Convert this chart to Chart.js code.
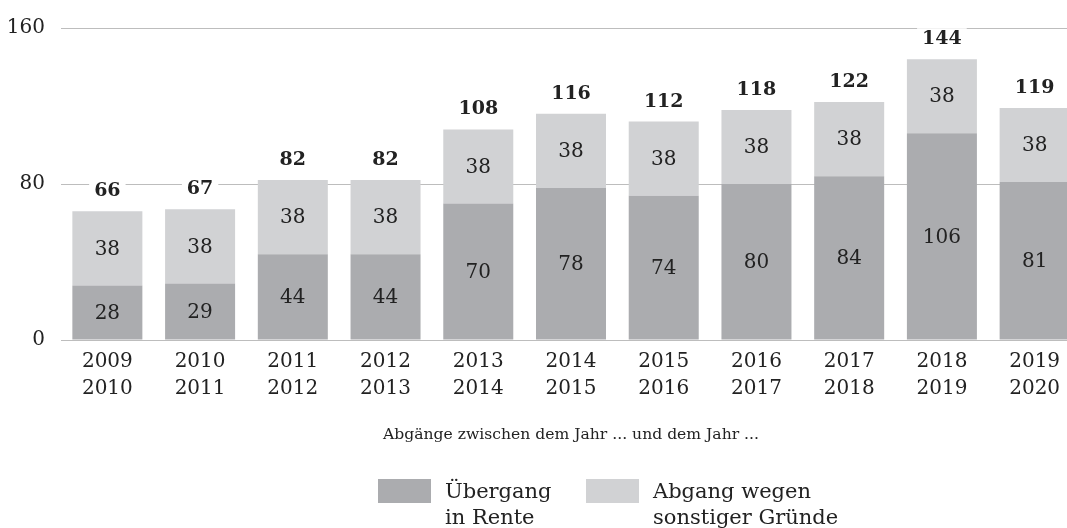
<!DOCTYPE html>
<html>
<head>
<meta charset="utf-8">
<script src="https://cdn.jsdelivr.net/npm/chart.js@4/dist/chart.umd.min.js"></script>
<style>
html,body{margin:0;padding:0;background:#fff;width:1067px;height:528px;overflow:hidden;}
#wrap{position:absolute;left:0;top:0;width:1081px;height:528px;}
.leg{position:absolute;font-family:"DejaVu Serif",serif;font-size:21px;line-height:26px;color:#222;white-space:nowrap;}
.sw{position:absolute;width:53px;height:24px;}
</style>
</head>
<body>
<div id="wrap"><canvas id="c"></canvas></div>
<div class="sw" id="sw0" style="left:378px;top:479px;"></div>
<div class="leg" id="lt0" style="left:445px;top:478px;"></div>
<div class="sw" id="sw1" style="left:586px;top:479px;"></div>
<div class="leg" id="lt1" style="left:653px;top:478px;"></div>
<script>
// ---- data ----
const categories = [
  ["2009","2010"],["2010","2011"],["2011","2012"],["2012","2013"],["2013","2014"],
  ["2014","2015"],["2015","2016"],["2016","2017"],["2017","2018"],["2018","2019"],["2019","2020"]
];
const uebergangInRente = [28, 29, 44, 44, 70, 78, 74, 80, 84, 106, 81];
const sonstigeGruende  = [38, 38, 38, 38, 38, 38, 38, 38, 38, 38, 38];
const totals           = [66, 67, 82, 82, 108, 116, 112, 118, 122, 144, 119];
const yTickValues = [0, 80, 160];
const seriesLabels = [["Übergang", "in Rente"], ["Abgang wegen", "sonstiger Gründe"]];
const seriesColors = ["#abacaf", "#d1d2d4"];
const xAxisTitle = "Abgänge zwischen dem Jahr ... und dem Jahr ...";

const FONT = '"DejaVu Serif", serif';
const TEXT = '#222222';

const labelPlugin = {
  id: 'barLabels',
  afterDatasetsDraw(chart) {
    const ctx = chart.ctx;
    ctx.save();
    ctx.textAlign = 'center';
    ctx.textBaseline = 'middle';
    ctx.font = '20px ' + FONT;
    ctx.fillStyle = TEXT;
    chart.data.datasets.forEach((ds, di) => {
      const meta = chart.getDatasetMeta(di);
      meta.data.forEach((bar, i) => {
        const p = bar.getProps(['x', 'y', 'base'], true);
        ctx.fillText(String(ds.data[i]), p.x, (p.y + p.base) / 2 + 1);
      });
    });
    const topMeta = chart.getDatasetMeta(chart.data.datasets.length - 1);
    ctx.font = 'bold 19px ' + FONT;
    topMeta.data.forEach((bar, i) => {
      const p = bar.getProps(['x', 'y'], true);
      const y = p.y - 21;
      const t = String(totals[i]);
      const w = ctx.measureText(t).width;
      ctx.fillStyle = '#ffffff';
      ctx.fillRect(p.x - w / 2 - 5, y - 10, w + 10, 22);
      ctx.fillStyle = TEXT;
      ctx.fillText(t, p.x, y + 1);
    });
    ctx.restore();
  }
};

const chart = new Chart(document.getElementById('c'), {
  type: 'bar',
  data: {
    labels: categories,
    datasets: [
      { label: seriesLabels[0].join(' '), data: uebergangInRente, backgroundColor: seriesColors[0],
        barPercentage: 0.755, categoryPercentage: 1.0 },
      { label: seriesLabels[1].join(' '), data: sonstigeGruende, backgroundColor: seriesColors[1],
        barPercentage: 0.755, categoryPercentage: 1.0 }
    ]
  },
  options: {
    responsive: true,
    maintainAspectRatio: false,
    animation: false,
    layout: { padding: { top: 26, left: 0, right: 0, bottom: 78 } },
    plugins: { legend: { display: false }, tooltip: { enabled: false } },
    scales: {
      x: {
        stacked: true,
        grid: { display: false, drawTicks: false },
        border: { display: false },
        ticks: { color: TEXT, font: { family: FONT, size: 20, lineHeight: 1.35 }, padding: 8, maxRotation: 0, autoSkip: false },
        title: { display: true, text: xAxisTitle, color: TEXT, font: { family: FONT, size: 15.6, lineHeight: 1.2 }, padding: { top: 4, bottom: 6 } },
        afterFit(scale) { scale.height = 110; }
      },
      y: {
        stacked: true,
        min: 0, max: 160,
        afterBuildTicks(scale) { scale.ticks = yTickValues.map(v => ({ value: v })); },
        grid: { color: '#bdbdbd', lineWidth: 1, drawTicks: false },
        border: { display: false },
        ticks: { color: TEXT, font: { family: FONT, size: 20 }, padding: 16 },
        afterFit(scale) { scale.width = 61; }
      }
    }
  },
  plugins: [labelPlugin]
});

// HTML legend built from dataset data
chart.data.datasets.forEach((ds, i) => {
  document.getElementById('sw' + i).style.background = ds.backgroundColor;
  document.getElementById('lt' + i).innerHTML = seriesLabels[i].join('<br>');
});
</script>
</body>
</html>
